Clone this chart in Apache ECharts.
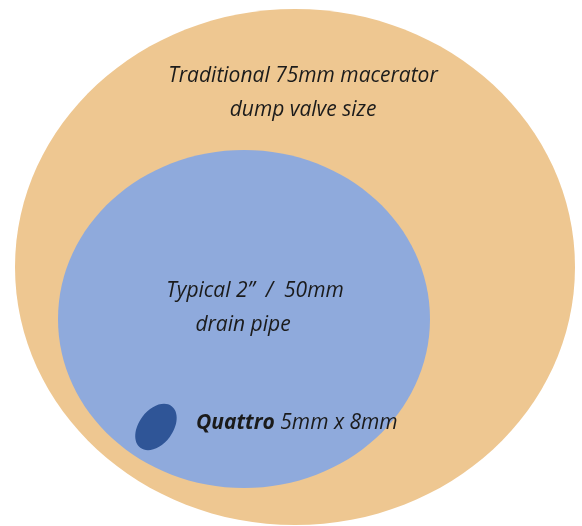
<!DOCTYPE html>
<html lang="en">
<head>
    <meta charset="UTF-8">
    <title>Dump valve size comparison</title>
    <script src="https://cdn.jsdelivr.net/npm/echarts@6/dist/echarts.min.js"></script>
    <style>
        html, body { margin: 0; padding: 0; background: #fff; }
        #chart { width: 582px; height: 526px; }
    </style>
</head>
<body>
    <div id="chart"></div>
    <script>
        // ellipses, in page-like units (x 0..582, y 0..526 from top)
        var shapeNames = ['Traditional 75mm', 'Typical 50mm', 'Quattro'];
        var centerX = [295, 244, 156];
        var centerY = [267, 319, 427];
        var radiusX = [280, 186, 17];
        var radiusY = [258, 169, 26];
        var tiltDeg = [0, 0, -37];
        var fillColors = ['#EEC791', '#8FAADC', '#2F5597'];

        // captions
        var labelText = [
            'Traditional 75mm macerator\ndump valve size',
            'Typical 2\u201d  /  50mm',
            'drain pipe',
            '{b|Quattro} 5mm x 8mm'
        ];
        var labelX = [303, 255, 243, 196];
        var labelY = [93, 291, 325, 423];
        var labelAlign = ['center', 'center', 'center', 'left'];

        (function initChart() {
            var myChart = echarts.init(document.getElementById('chart'));

            var shapeData = shapeNames.map(function(n, i) {
                return [centerX[i], centerY[i], radiusX[i], radiusY[i], tiltDeg[i], i];
            });
            var labelData = labelText.map(function(t, i) {
                return [labelX[i], labelY[i], i];
            });

            var textFont = 'italic 21px "Open Sans"';

            var options = {
                animation: false,
                grid: { left: 0, right: 0, top: 0, bottom: 0 },
                xAxis: { type: 'value', min: 0, max: 582, show: false },
                yAxis: { type: 'value', min: 0, max: 526, inverse: true, show: false },
                series: [{
                        type: 'custom',
                        data: shapeData,
                        renderItem: function(params, api) {
                            var c = api.coord([api.value(0), api.value(1)]);
                            var s = api.size([api.value(2), api.value(3)]);
                            var idx = api.value(5);
                            return {
                                type: 'ellipse',
                                x: c[0],
                                y: c[1],
                                rotation: api.value(4) * Math.PI / 180,
                                shape: { cx: 0, cy: 0, rx: s[0], ry: s[1] },
                                style: { fill: fillColors[idx] }
                            };
                        }
                    },
                    {
                        type: 'custom',
                        data: labelData,
                        z: 5,
                        renderItem: function(params, api) {
                            var c = api.coord([api.value(0), api.value(1)]);
                            var idx = api.value(2);
                            return {
                                type: 'text',
                                x: c[0],
                                y: c[1],
                                style: {
                                    text: labelText[idx],
                                    font: textFont,
                                    fill: '#1b1b1b',
                                    align: labelAlign[idx],
                                    verticalAlign: 'middle',
                                    lineHeight: 34,
                                    rich: {
                                        b: {
                                            font: 'italic bold 21px "Open Sans"',
                                            fill: '#1b1b1b'
                                        }
                                    }
                                }
                            };
                        }
                    }
                ]
            };

            myChart.setOption(options);
        })();
    </script>
</body>
</html>
